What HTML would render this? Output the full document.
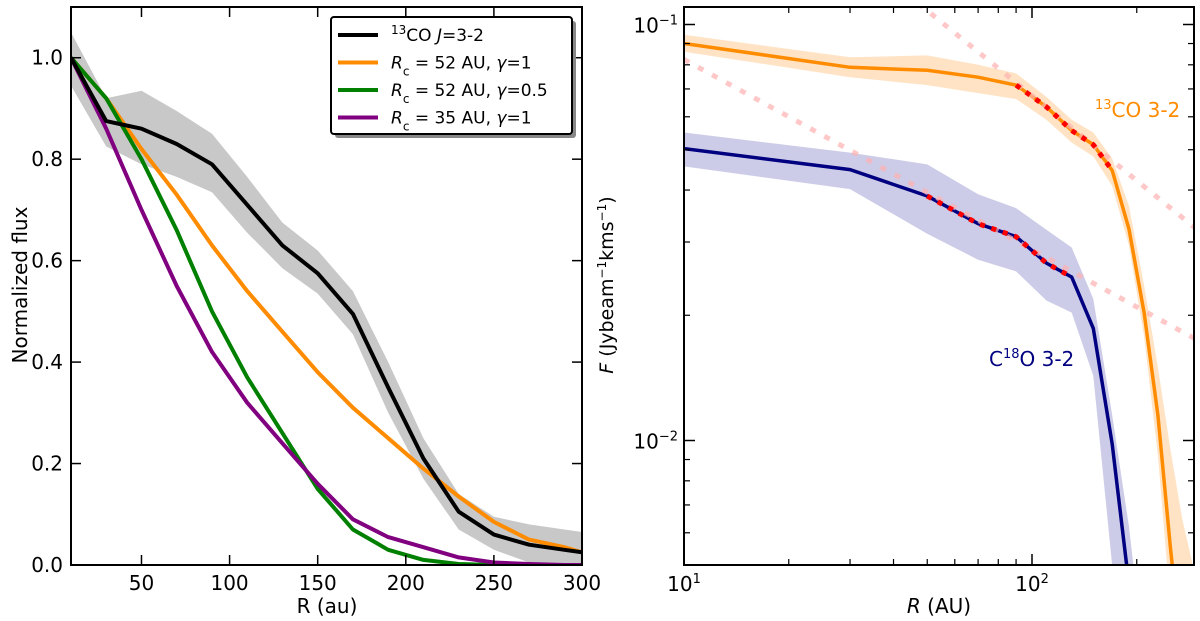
<!DOCTYPE html>
<html><head><meta charset="utf-8"><style>
html,body{margin:0;padding:0;background:#fff;overflow:hidden}
svg{display:block}
svg text{font-family:"DejaVu Sans","Liberation Sans",sans-serif;fill:#000}
</style></head><body>
<svg id="fig" width="1200" height="621" viewBox="0 0 1200 621" xmlns="http://www.w3.org/2000/svg"></svg>
<script>
// ---- Left panel data ----
const leftR = [10,30,50,70,90,110,130,150,170,190,210,230,250,270,290,300];
const obsFlux = [1.0,0.875,0.86,0.83,0.79,0.71,0.63,0.575,0.495,0.35,0.21,0.105,0.06,0.04,0.03,0.025];
const obsUpper = [1.05,0.92,0.935,0.895,0.85,0.765,0.675,0.62,0.54,0.4,0.25,0.14,0.095,0.08,0.07,0.065];
const obsLower = [0.945,0.825,0.79,0.765,0.735,0.655,0.585,0.535,0.455,0.3,0.17,0.07,0.03,0.005,0,0];
const model52g1 = [1.0,0.92,0.82,0.73,0.63,0.54,0.46,0.38,0.31,0.25,0.19,0.135,0.085,0.05,0.035,0.025];
const model52g05 = [1.0,0.92,0.80,0.66,0.50,0.37,0.26,0.15,0.07,0.03,0.01,0.002,0,0,0,0];
const model35g1 = [1.0,0.86,0.70,0.55,0.42,0.32,0.24,0.16,0.09,0.055,0.035,0.015,0.005,0.002,0,0];
const leftXTicks = [50,100,150,200,250,300];
const leftYTicks = [0,0.2,0.4,0.6,0.8,1.0];
// ---- Right panel data ----
const rightR = [10,30,50,70,90,110,130,150,170,190,210,230,250,270,290];
const co13 = [0.090,0.0789,0.0776,0.0747,0.0715,0.0634,0.0556,0.0514,0.0446,0.0322,0.0203,0.0115,0.0055,0.003,0.002];
const co13Upper = [0.0945,0.0834,0.0843,0.080,0.0763,0.067,0.059,0.055,0.0476,0.0366,0.0236,0.015,0.0095,0.0065,0.005];
const co13Lower = [0.086,0.0747,0.0715,0.0684,0.0662,0.059,0.052,0.0482,0.0409,0.0294,0.0178,0.0092,0.004,0.003,0.002];
const c18oR = [10,30,50,70,90,110,130,150,170,190,210];
const c18o = [0.0503,0.0448,0.0387,0.0332,0.0309,0.0267,0.0247,0.0186,0.0098,0.0045,0.002];
const c18oUpper = [0.055,0.0492,0.0461,0.0391,0.0362,0.0321,0.0291,0.0219,0.0115,0.0062,0.003];
const c18oLower = [0.0456,0.0402,0.0314,0.0272,0.0255,0.0217,0.0203,0.0143,0.005,0.003,0.002];
const fit1R = [50,300];
const fit1F = [0.108,0.032];
const fit2R = [10,300];
const fit2F = [0.0824,0.0174];
const rightXTicks = [10,100];
const rightYTicks = [0.1,0.01];

const NS="http://www.w3.org/2000/svg";
const svg=document.getElementById('fig');
function mk(tag,attrs,parent){const e=document.createElementNS(NS,tag);for(const k in attrs)e.setAttribute(k,attrs[k]);(parent||svg).appendChild(e);return e;}

const L={x0:71,x1:582,y0:7,y1:565};
const lx=v=>L.x0+(v-10)/(300-10)*(L.x1-L.x0);
const ly=v=>L.y1-v/1.1*(L.y1-L.y0);
const Rg={x0:684,x1:1194,y0:7,y1:565};
const rx=v=>Rg.x0+(Math.log10(v)-1)*348;
const ry=v=>24.5+(-1-Math.log10(v))*416;

const cl=mk('clipPath',{id:'cl'});mk('rect',{x:L.x0,y:L.y0,width:L.x1-L.x0,height:L.y1-L.y0},cl);
const cr=mk('clipPath',{id:'cr'});mk('rect',{x:Rg.x0,y:Rg.y0,width:Rg.x1-Rg.x0,height:Rg.y1-Rg.y0},cr);

function pts(xs,ys,fx,fy){return xs.map((x,i)=>fx(x).toFixed(1)+','+fy(ys[i]).toFixed(1)).join(' ');}
function band(xs,up,lo,fx,fy){return pts(xs,up,fx,fy)+' '+pts(xs.slice().reverse(),lo.slice().reverse(),fx,fy);}

// Left panel
const gl=mk('g',{'clip-path':'url(#cl)'});

let e=mk('polygon',{points:band(leftR,obsUpper,obsLower,lx,ly),fill:'#c8c8c8'},gl);

const lseries=[[obsFlux,'#000','obs-13co-line'],[model52g1,'#ff8c00','model-rc52-g1-line'],[model52g05,'#008000','model-rc52-g05-line'],[model35g1,'#800080','model-rc35-g1-line']];
[lseries[1],lseries[2],lseries[3],lseries[0]].forEach(s=>{
 const p=mk('polyline',{points:pts(leftR,s[0],lx,ly),fill:'none',stroke:s[1],'stroke-width':4,'stroke-linejoin':'round'},gl);
 
});
e=mk('rect',{x:L.x0,y:L.y0,width:L.x1-L.x0,height:L.y1-L.y0,fill:'none',stroke:'#000','stroke-width':2});

leftXTicks.forEach(t=>{const x=lx(t);
 mk('line',{x1:x,x2:x,y1:L.y1,y2:L.y1-10,stroke:'#000','stroke-width':1.5});
 mk('line',{x1:x,x2:x,y1:L.y0,y2:L.y0+10,stroke:'#000','stroke-width':1.5});
 const tx=mk('text',{x:x,y:590,'font-size':20,'text-anchor':'middle'});tx.textContent=t;
 
});
leftYTicks.forEach(t=>{const y=ly(t);
 mk('line',{x1:L.x0,x2:L.x0+10,y1:y,y2:y,stroke:'#000','stroke-width':1.5});
 mk('line',{x1:L.x1,x2:L.x1-10,y1:y,y2:y,stroke:'#000','stroke-width':1.5});
 const tx=mk('text',{x:L.x0-8,y:y+7,'font-size':20,'text-anchor':'end'});tx.textContent=t.toFixed(1);
 
});
e=mk('text',{x:327,y:613,'font-size':20,'text-anchor':'middle'});e.textContent='R (au)';

e=mk('text',{x:0,y:0,'font-size':20,'text-anchor':'middle',transform:'translate(27,285) rotate(-90)'});e.textContent='Normalized flux';


// Legend
const lg=mk('g',{});
mk('rect',{x:335,y:21,width:241,height:117,fill:'#888',rx:3},lg);
mk('rect',{x:331,y:17,width:241,height:117,fill:'#fff',stroke:'#000','stroke-width':2,rx:3},lg);
const legItems=[['#000','<tspan baseline-shift="super" font-size="12">13</tspan>CO <tspan font-style="italic">J</tspan>=3-2'],
['#ff8c00','<tspan font-style="italic">R</tspan><tspan baseline-shift="sub" font-size="12">c</tspan> = 52 AU, <tspan font-style="italic">γ</tspan>=1'],
['#008000','<tspan font-style="italic">R</tspan><tspan baseline-shift="sub" font-size="12">c</tspan> = 52 AU, <tspan font-style="italic">γ</tspan>=0.5'],
['#800080','<tspan font-style="italic">R</tspan><tspan baseline-shift="sub" font-size="12">c</tspan> = 35 AU, <tspan font-style="italic">γ</tspan>=1']];
legItems.forEach((it,i)=>{const y=35+i*27.5;
 const g=mk('g',{},lg);
 mk('line',{x1:338,x2:378,y1:y,y2:y,stroke:it[0],'stroke-width':4},g);
 const t=mk('text',{x:391,y:y+6,'font-size':17},g);t.innerHTML=it[1];
});

// Right panel
const gr=mk('g',{'clip-path':'url(#cr)'});

e=mk('polygon',{points:band(rightR,co13Upper,co13Lower,rx,ry),fill:'#ffe3c4'},gr);

e=mk('polygon',{points:band(c18oR,c18oUpper,c18oLower,rx,ry),fill:'#9999d1','fill-opacity':0.5},gr);

e=mk('polyline',{points:pts(rightR,co13,rx,ry),fill:'none',stroke:'#ff8c00','stroke-width':3.5},gr);

e=mk('polyline',{points:pts(c18oR,c18o,rx,ry),fill:'none',stroke:'#000080','stroke-width':3.5},gr);

function pl(rr,ff,r){const k=Math.log(ff[1]/ff[0])/Math.log(rr[1]/rr[0]);return ff[0]*Math.pow(r/rr[0],k);}
e=mk('line',{x1:rx(40),y1:ry(pl(fit1R,fit1F,40)),x2:rx(320),y2:ry(pl(fit1R,fit1F,320)),stroke:'#ffb0b0','stroke-opacity':0.7,'stroke-width':5,'stroke-dasharray':'6 10'},gr);

e=mk('line',{x1:rx(10),y1:ry(pl(fit2R,fit2F,10)),x2:rx(320),y2:ry(pl(fit2R,fit2F,320)),stroke:'#ffb0b0','stroke-opacity':0.7,'stroke-width':5,'stroke-dasharray':'6 10'},gr);

e=mk('polyline',{points:pts(rightR.slice(4,9),co13.slice(4,9),rx,ry),fill:'none',stroke:'#ff0000','stroke-width':5,'stroke-dasharray':'5 7'},gr);

e=mk('polyline',{points:pts(c18oR.slice(2,7),c18o.slice(2,7),rx,ry),fill:'none',stroke:'#ff0000','stroke-width':5,'stroke-dasharray':'5 7'},gr);

e=mk('rect',{x:Rg.x0,y:Rg.y0,width:Rg.x1-Rg.x0,height:Rg.y1-Rg.y0,fill:'none',stroke:'#000','stroke-width':2});

[20,30,40,50,60,70,80,90,200].forEach(v=>{const x=rx(v);
 mk('line',{x1:x,x2:x,y1:Rg.y1,y2:Rg.y1-6,stroke:'#000','stroke-width':1.2});
 mk('line',{x1:x,x2:x,y1:Rg.y0,y2:Rg.y0+6,stroke:'#000','stroke-width':1.2});});
[0.006,0.007,0.008,0.009,0.02,0.03,0.04,0.05,0.06,0.07,0.08,0.09].forEach(v=>{const y=ry(v);
 mk('line',{x1:Rg.x0,x2:Rg.x0+6,y1:y,y2:y,stroke:'#000','stroke-width':1.2});
 mk('line',{x1:Rg.x1,x2:Rg.x1-6,y1:y,y2:y,stroke:'#000','stroke-width':1.2});});
rightXTicks.forEach(t=>{const x=rx(t);
 mk('line',{x1:x,x2:x,y1:Rg.y1,y2:Rg.y1-11,stroke:'#000','stroke-width':1.5});
 mk('line',{x1:x,x2:x,y1:Rg.y0,y2:Rg.y0+11,stroke:'#000','stroke-width':1.5});
 const tx=mk('text',{x:x,y:591,'font-size':20,'text-anchor':'middle'});tx.innerHTML='10<tspan dy="-8" font-size="13">'+Math.round(Math.log10(t))+'</tspan>';
 
});
rightYTicks.forEach(t=>{const y=ry(t);
 mk('line',{x1:Rg.x0,x2:Rg.x0+11,y1:y,y2:y,stroke:'#000','stroke-width':1.5});
 mk('line',{x1:Rg.x1,x2:Rg.x1-11,y1:y,y2:y,stroke:'#000','stroke-width':1.5});
 const tx=mk('text',{x:Rg.x0-6,y:y+8,'font-size':20,'text-anchor':'end'});tx.innerHTML='10<tspan dy="-8" font-size="13">−'+Math.round(-Math.log10(t))+'</tspan>';
 
});
e=mk('text',{x:939,y:613,'font-size':20,'text-anchor':'middle'});e.innerHTML='<tspan font-style="italic">R</tspan> (AU)';

e=mk('text',{x:0,y:0,'font-size':19,'text-anchor':'middle',transform:'translate(613,285) rotate(-90)'});
e.innerHTML='<tspan font-style="italic">F</tspan> (Jybeam<tspan dy="-7" font-size="12">−1</tspan><tspan dy="7">kms</tspan><tspan dy="-7" font-size="12">−1</tspan><tspan dy="7">)</tspan>';

e=mk('text',{x:1095,y:117,'font-size':20});e.setAttribute('fill','#ff8c00');
e.innerHTML='<tspan dy="-8" font-size="13" fill="#ff8c00">13</tspan><tspan dy="8" fill="#ff8c00">CO 3-2</tspan>';

e=mk('text',{x:989,y:366,'font-size':20});e.setAttribute('fill','#000080');
e.innerHTML='<tspan fill="#000080">C</tspan><tspan dy="-8" font-size="13" fill="#000080">18</tspan><tspan dy="8" fill="#000080">O 3-2</tspan>';

</script>
</body></html>
